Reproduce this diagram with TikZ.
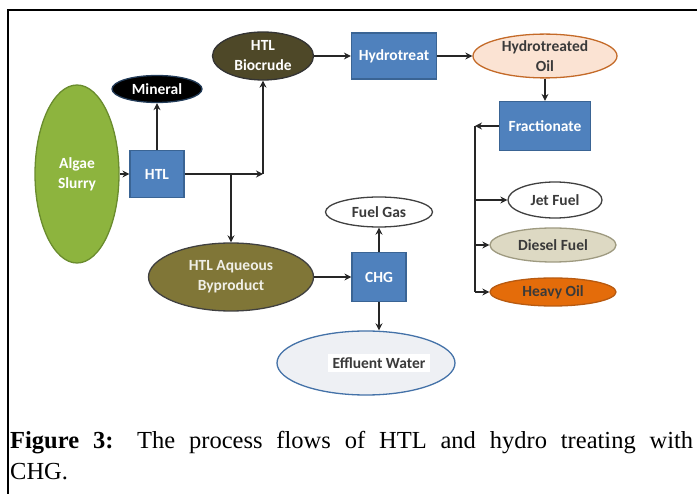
\documentclass[tikz,border=0pt]{standalone}
\usepackage{fontspec}
\setmainfont{Liberation Serif}
\newfontfamily\boxfont{Carlito}
\usetikzlibrary{shapes.geometric,arrows.meta}
\definecolor{boxblue}{HTML}{4F81BD}
\definecolor{boxedge}{HTML}{3A6494}
\definecolor{algaegreen}{HTML}{8DB43E}
\definecolor{algaeedge}{HTML}{6A8C2E}
\definecolor{crudebrown}{HTML}{4E4828}
\definecolor{aqueousbrown}{HTML}{807637}
\definecolor{oilpeach}{HTML}{FBE3D3}
\definecolor{oiledge}{HTML}{C46A28}
\definecolor{dieselgrey}{HTML}{DDD9C3}
\definecolor{dieseledge}{HTML}{9E9A80}
\definecolor{heavyorange}{HTML}{E46C0A}
\definecolor{heavyedge}{HTML}{B85A10}
\definecolor{waterfill}{HTML}{EEF0F4}
\definecolor{wateredge}{HTML}{4472A8}
\definecolor{darktext}{HTML}{3A3A3A}
\tikzset{
proc/.style={draw=boxedge, fill=boxblue, line width=1.2pt, text=white,
    font=\boxfont\bfseries\fontsize{15.5}{20}\selectfont, align=center,
    inner sep=0pt},
prod/.style={ellipse, draw, line width=1.3pt, text=darktext,
    font=\boxfont\bfseries\fontsize{15.5}{20}\selectfont, align=center,
    inner sep=0pt},
flow/.style={-{Stealth[length=7pt,width=7pt]}, line width=1.5pt, draw=black!85},
pipe/.style={line width=1.5pt, draw=black!85}
}

\begin{document}
\begin{tikzpicture}[x=1pt, y=-1pt]
	\useasboundingbox (0,0) rectangle (697,494);
	\draw[line width=1.5pt] (8,494) -- (8,10) -- (697,10);
	% feed and HTL
	\node[prod, fill=algaegreen, draw=algaeedge, text=white, minimum width=84pt,
		minimum height=178pt] (algae) at (77,174) {Algae\\Slurry};
	\node[proc, minimum width=54pt, minimum height=47pt] (htl) at (157,174) {HTL};
	\node[prod, fill=black, draw=boxedge!60!black, text=white, minimum width=90pt,
		minimum height=27pt] (mineral) at (157,89) {Mineral};
	\node[prod, fill=crudebrown, draw=black!80, text=white, minimum width=101pt,
		minimum height=48pt] (biocrude) at (263,56) {HTL\\Biocrude};
	% upgrading
	\node[proc, minimum width=85pt, minimum height=46pt] (hydro) at (394,56) {Hydrotreat};
	\node[prod, fill=oilpeach, draw=oiledge, minimum width=144pt,
		minimum height=34pt] (oil) at (545,56) {Hydrotreated\\Oil};
	\node[proc, minimum width=91pt, minimum height=49pt] (frac) at (545,126) {Fractionate};
	\node[prod, fill=white, draw=black!75, minimum width=94pt,
		minimum height=36pt] (jet) at (555,200) {Jet Fuel};
	\node[prod, fill=dieselgrey, draw=dieseledge, minimum width=126pt,
		minimum height=34pt] (diesel) at (553,245) {Diesel Fuel};
	\node[prod, fill=heavyorange, draw=heavyedge, minimum width=126pt,
		minimum height=28pt] (heavy) at (553,292) {Heavy Oil};
	% aqueous side
	\node[prod, fill=aqueousbrown, draw=black!75, text=white!88!aqueousbrown,
		minimum width=165pt, minimum height=68pt] (aqueous) at (231,277) {HTL Aqueous\\Byproduct};
	\node[proc, minimum width=54pt, minimum height=49pt] (chg) at (379,277) {CHG};
	\node[prod, fill=white, draw=black!75, minimum width=107pt,
		minimum height=30pt] (fuelgas) at (379,212) {Fuel Gas};
	\node[prod, fill=waterfill, draw=wateredge, minimum width=178pt,
		minimum height=64pt] (effluent) at (366,363) {};
	\node[fill=white, text=darktext, font=\boxfont\bfseries\fontsize{15.5}{20}\selectfont,
		inner xsep=5pt, inner ysep=4pt] (effluenttext) at (379,363) {Effluent Water};
	% flows
	\coordinate (split) at (231,174);
	\coordinate (rise) at (263,174);
	\coordinate (bus) at (475,126);
	\coordinate (busend) at (475,292);
	\draw[flow] (algae) -- (htl);
	\draw[flow] (htl) -- (mineral);
	\draw[pipe] (htl) -- (split);
	\draw[flow] (split) -- (rise);
	\draw[flow] (rise) -- (biocrude);
	\draw[flow] (split) -- (aqueous);
	\draw[flow] (biocrude) -- (hydro);
	\draw[flow] (hydro) -- (oil);
	\draw[flow] (oil) -- (frac);
	\draw[flow] (frac) -- (bus);
	\draw[pipe] (bus) -- (busend);
	\draw[flow] (bus |- jet) -- (jet);
	\draw[flow] (bus |- diesel) -- (diesel);
	\draw[flow] (busend) -- (heavy);
	\draw[flow] (aqueous) -- (chg);
	\draw[flow] (chg) -- (fuelgas);
	\draw[flow] (chg) -- (chg |- effluent.north);
	% caption
	\node[anchor=north west, text width=683pt, align=justify, inner sep=0pt,
		font=\fontsize{24.5}{31}\selectfont] (caption) at (10,431)
		{\textbf{Figure 3:} The process flows of HTL and hydro treating with\linebreak CHG.};
\end{tikzpicture}
\end{document}
